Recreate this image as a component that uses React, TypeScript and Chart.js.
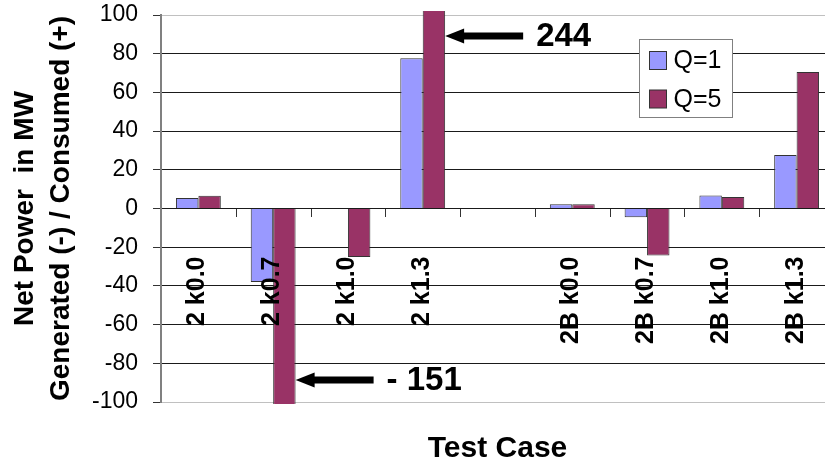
import React, { useEffect, useRef } from 'react';
import { Chart, registerables } from 'chart.js';

Chart.register(...registerables);

// ---------- data ----------
const categories = ['2 k0.0', '2 k0.7', '2 k1.0', '2 k1.3', '', '2B k0.0', '2B k0.7', '2B k1.0', '2B k1.3'];
const seriesNames = ['Q=1', 'Q=5'];
const q1Values: (number | null)[] = [5.4, -38, 0, 77.7, null, 2.2, -4.5, 6.7, 27.6];
const q5Values: (number | null)[] = [6.6, -151, -25, 244, null, 2.2, -24.3, 5.9, 70.6];
const yMin = -100;
const yMax = 100;
const yStep = 20;
const xTitle = 'Test Case';
const yTitle = ['Net Power  in MW', 'Generated (-) / Consumed (+)'];
const calloutCategories = ['2 k1.3', '2 k0.7'];

// ---------- styles ----------
const FONT = "'Liberation Sans', Arial, Helvetica, sans-serif";
const COLORS = ['#9999FF', '#993366'];

const decorPlugin = {
  id: 'decor',
  beforeDatasetsDraw(chart: any) {
    const { ctx, scales } = chart;
    const x = scales.x;
    const y = scales.y;
    const y0 = Math.round(y.getPixelForValue(0));
    ctx.save();
    ctx.strokeStyle = '#333';
    ctx.lineWidth = 1;
    for (let i = 1; i < categories.length; i++) {
      const xp = Math.round((x.getPixelForValue(i - 1) + x.getPixelForValue(i)) / 2) + 0.5;
      ctx.beginPath();
      ctx.moveTo(xp, y0);
      ctx.lineTo(xp, y0 + 8);
      ctx.stroke();
    }
    ctx.restore();
  },
  afterDatasetsDraw(chart: any) {
    const { ctx, chartArea, scales } = chart;
    const x = scales.x;
    const y = scales.y;
    const y0 = y.getPixelForValue(0);

    // category labels, rotated, inside the plot
    ctx.save();
    ctx.fillStyle = '#000';
    ctx.font = `bold 25px ${FONT}`;
    categories.forEach((c, i) => {
      if (!c) return;
      ctx.save();
      ctx.translate(x.getPixelForValue(i) - 1, y0 + 48);
      ctx.rotate(-Math.PI / 2);
      ctx.textAlign = 'right';
      ctx.textBaseline = 'middle';
      ctx.fillText(c, 0, 0);
      ctx.restore();
    });
    ctx.restore();

    // callout arrows for off-scale bars
    const meta = chart.getDatasetMeta(1);
    calloutCategories.forEach((c) => {
      const i = categories.indexOf(c);
      const v = q5Values[i] as number;
      const bar: any = meta.data[i];
      const tipX = bar.x + bar.width / 2;
      const ay = v > 0 ? chartArea.top + 21 : chartArea.bottom - 22;
      ctx.save();
      ctx.fillStyle = '#000';
      ctx.beginPath();
      ctx.moveTo(tipX, ay);
      ctx.lineTo(tipX + 19, ay - 7.5);
      ctx.lineTo(tipX + 19, ay + 7.5);
      ctx.closePath();
      ctx.fill();
      ctx.fillRect(tipX + 18, ay - 3.5, 60, 7);
      ctx.font = `bold 33px ${FONT}`;
      ctx.textAlign = 'left';
      ctx.textBaseline = 'middle';
      const label = v > 0 ? String(v) : '- ' + Math.abs(v);
      ctx.fillText(label, tipX + 91, ay + 1);
      ctx.restore();
    });

    // legend box
    const lx = 639.5;
    const ly = 39.5;
    const lw = 93;
    const lh = 78;
    ctx.save();
    ctx.fillStyle = '#fff';
    ctx.fillRect(lx, ly, lw, lh);
    ctx.strokeStyle = '#808080';
    ctx.lineWidth = 1;
    ctx.strokeRect(lx, ly, lw, lh);
    ctx.font = `25px ${FONT}`;
    ctx.textAlign = 'left';
    ctx.textBaseline = 'middle';
    seriesNames.forEach((name, k) => {
      const sy = ly + 12 + k * 38.5;
      ctx.fillStyle = COLORS[k];
      ctx.fillRect(lx + 10, sy, 17, 18);
      ctx.strokeStyle = '#333';
      ctx.strokeRect(lx + 10, sy, 17, 18);
      ctx.fillStyle = '#000';
      ctx.fillText(name, lx + 34, sy + 10);
    });
    ctx.restore();
  },
};

export default function App() {
  const ref = useRef<HTMLCanvasElement | null>(null);

  useEffect(() => {
    if (!ref.current) return;
    const chart = new Chart(ref.current, {
      type: 'bar',
      data: {
        labels: categories,
        datasets: [
          {
            label: seriesNames[0],
            data: q1Values,
            backgroundColor: COLORS[0],
            borderColor: '#333',
            borderWidth: 1,
            categoryPercentage: 0.6,
            barPercentage: 1.0,
          },
          {
            label: seriesNames[1],
            data: q5Values,
            backgroundColor: COLORS[1],
            borderColor: '#333',
            borderWidth: 1,
            categoryPercentage: 0.6,
            barPercentage: 1.0,
            clip: { left: 0, right: 0, top: 4, bottom: 2 } as any,
          },
        ],
      },
      options: {
        responsive: false,
        animation: false,
        events: [],
        layout: { padding: { left: 0, top: 15, right: 11, bottom: 0 } },
        plugins: {
          legend: { display: false },
          tooltip: { enabled: false },
        },
        scales: {
          x: {
            grid: { display: false },
            border: { display: false },
            ticks: { display: false },
            title: {
              display: true,
              text: xTitle,
              color: '#000',
              font: { family: FONT, size: 30, weight: 'bold', lineHeight: 1.1 },
              padding: 0,
            },
            afterFit: (scale: any) => {
              scale.height = 63;
            },
          },
          y: {
            min: yMin,
            max: yMax,
            ticks: {
              stepSize: yStep,
              color: '#000',
              padding: 15,
              font: { family: FONT, size: 23 },
            },
            grid: {
              color: (c: any) =>
                c.tick && (c.tick.value === yMax || c.tick.value === yMin) ? '#c0c0c0' : '#1a1a1a',
              lineWidth: 1,
              drawTicks: true,
              tickLength: 8,
              tickColor: '#333',
            },
            border: { display: true, color: '#808080', width: 2 },
            title: {
              display: true,
              text: yTitle,
              color: '#000',
              font: { family: FONT, size: 28, weight: 'bold', lineHeight: 1.3 },
              padding: { top: 7, bottom: 0 },
            },
            afterFit: (scale: any) => {
              scale.width = 161;
              scale.paddingTop = 0;
              scale.paddingBottom = 0;
            },
          },
        },
      },
      plugins: [decorPlugin],
    });
    return () => chart.destroy();
  }, []);

  return (
    <div
      style={{
        position: 'fixed',
        left: 0,
        top: 0,
        width: 825,
        height: 465,
        overflow: 'hidden',
        background: '#fff',
      }}
    >
      <canvas ref={ref} width={845} height={465} style={{ display: 'block' }} />
    </div>
  );
}
